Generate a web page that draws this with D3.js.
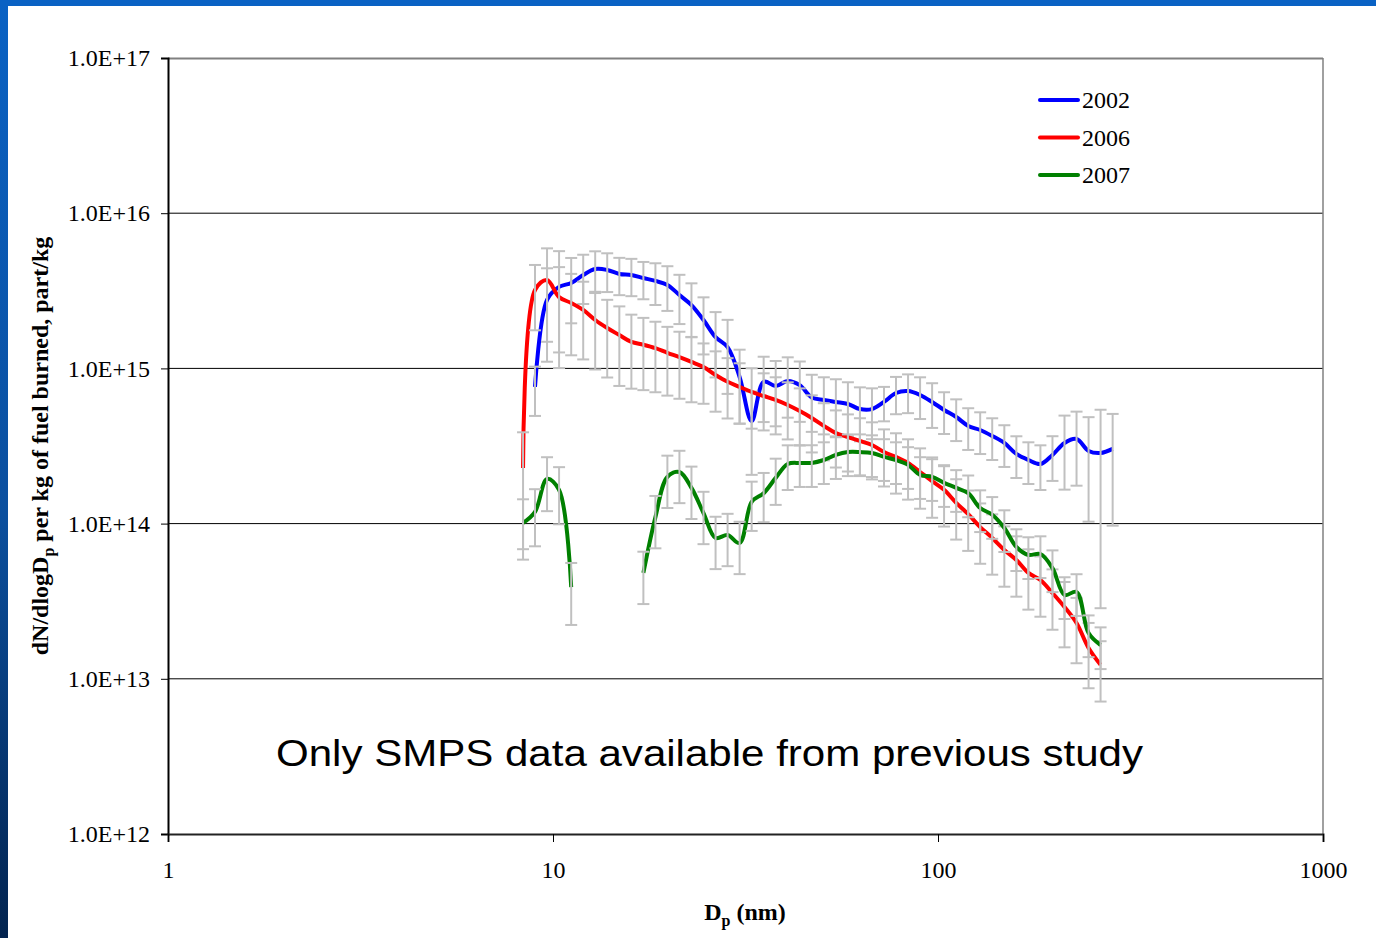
<!DOCTYPE html>
<html>
<head>
<meta charset="utf-8">
<script src="https://cdn.jsdelivr.net/npm/d3@7"></script>
<style>
  html, body { margin: 0; padding: 0; background: #fff; }
  svg { display: block; }
</style>
</head>
<body>
<svg id="chart" width="1376" height="938"></svg>
<script>
// ---- data ----
const diameters = [8.36, 8.98, 9.65, 10.37, 11.15, 11.98, 12.87, 13.83, 14.87, 15.98,
  17.17, 18.45, 19.82, 21.30, 22.89, 24.60, 26.44, 28.41, 30.53, 32.81,
  35.25, 37.88, 40.71, 43.75, 47.01, 50.52, 54.29, 58.34, 62.69, 67.37,
  72.39, 77.80, 83.60, 89.84, 96.54, 103.7, 111.5, 119.8, 128.7, 138.3,
  148.7, 159.8, 171.7, 184.5, 198.3, 213.1, 229.0, 246.1, 264.4, 284.2];

const seriesNames = ["2002", "2006", "2007"];

const values2002 = [null, 7.6e14, 2.76e15, 3.35e15, 3.55e15, 4.0e15, 4.37e15, 4.31e15, 4.06e15, 4.0e15,
  3.82e15, 3.66e15, 3.45e15, 2.97e15, 2.56e15, 2.05e15, 1.59e15, 1.37e15, 8.8e14, 4.58e14,
  8.2e14, 7.7e14, 8.3e14, 7.8e14, 6.5e14, 6.26e14, 6.08e14, 5.9e14, 5.47e14, 5.47e14,
  6.08e14, 6.94e14, 7.15e14, 6.74e14, 6.08e14, 5.4e14, 4.86e14, 4.26e14, 4.01e14, 3.67e14,
  3.31e14, 2.81e14, 2.57e14, 2.42e14, 2.77e14, 3.31e14, 3.51e14, 2.94e14, 2.85e14, 3.03e14];

const values2006 = [2.28e14, 3.2e15, 3.71e15, 2.88e15, 2.64e15, 2.38e15, 2.05e15, 1.82e15, 1.64e15, 1.48e15,
  1.42e15, 1.35e15, 1.26e15, 1.18e15, 1.10e15, 1.02e15, 9.07e14, 8.2e14, 7.6e14, 7.05e14,
  6.64e14, 6.26e14, 5.81e14, 5.31e14, 4.79e14, 4.26e14, 3.83e14, 3.61e14, 3.41e14, 3.21e14,
  2.89e14, 2.69e14, 2.46e14, 2.15e14, 1.88e14, 1.65e14, 1.36e14, 1.15e14, 9.5e13, 8.08e13,
  6.76e13, 5.83e13, 4.81e13, 4.33e13, 3.57e13, 2.9e13, 2.29e13, 1.58e13, 1.23e13, null];

const values2007 = [1.01e14, 1.19e14, 1.94e14, 1.65e14, 3.9e13, null, null, null, null, null,
  4.81e13, 1.10e14, 2.0e14, 2.15e14, 1.70e14, 1.17e14, 8.08e13, 8.44e13, 7.5e13, 1.38e14,
  1.57e14, 1.97e14, 2.42e14, 2.46e14, 2.46e14, 2.57e14, 2.77e14, 2.89e14, 2.89e14, 2.85e14,
  2.69e14, 2.57e14, 2.39e14, 2.06e14, 2.0e14, 1.83e14, 1.70e14, 1.57e14, 1.26e14, 1.14e14,
  9.37e13, 7.07e13, 6.28e13, 6.37e13, 5.17e13, 3.47e13, 3.63e13, 1.97e13, 1.65e13, null];

// relative standard deviation (sigma / value) for the error bars
const relErr2002 = [null, 0.35, 0.6, 0.7, 0.45, 0.35, 0.3, 0.28, 0.27, 0.27,
  0.27, 0.3, 0.32, 0.35, 0.38, 0.4, 0.45, 0.5, 0.5, 0.55,
  0.45, 0.45, 0.42, 0.42, 0.4, 0.4, 0.4, 0.38, 0.38, 0.36,
  0.25, 0.27, 0.28, 0.3, 0.32, 0.3, 0.3, 0.3, 0.3, 0.3,
  0.3, 0.3, 0.3, 0.32, 0.32, 0.5, 0.5, 0.65, 0.9, 0.68];

const relErr2006 = [0.7, 0.45, 0.6, 0.56, 0.54, 0.52, 0.52, 0.52, 0.53, 0.5,
  0.49, 0.48, 0.47, 0.46, 0.45, 0.42, 0.42, 0.42, 0.42, 0.42,
  0.4, 0.4, 0.4, 0.4, 0.4, 0.4, 0.4, 0.4, 0.4, 0.4,
  0.4, 0.42, 0.42, 0.42, 0.42, 0.42, 0.42, 0.42, 0.42, 0.42,
  0.42, 0.42, 0.42, 0.42, 0.42, 0.45, 0.45, 0.45, 0.42, null];

const relErr2007 = [0.42, 0.4, 0.38, 0.4, 0.43, null, null, null, null, null,
  0.37, 0.37, 0.37, 0.37, 0.37, 0.37, 0.37, 0.37, 0.37, 0.35,
  0.35, 0.33, 0.32, 0.3, 0.3, 0.3, 0.3, 0.3, 0.3, 0.3,
  0.3, 0.3, 0.3, 0.3, 0.3, 0.3, 0.3, 0.3, 0.3, 0.3,
  0.3, 0.3, 0.3, 0.3, 0.3, 0.3, 0.3, 0.3, 0.3, null];

const seriesColors = ["#0000ff", "#ff0000", "#008000"];

const xTickValues = [1, 10, 100, 1000];
const xTickLabels = ["1", "10", "100", "1000"];
const yTickValues = [1e12, 1e13, 1e14, 1e15, 1e16, 1e17];
const yTickLabels = ["1.0E+12", "1.0E+13", "1.0E+14", "1.0E+15", "1.0E+16", "1.0E+17"];

const annotation = "Only SMPS data available from previous study";

// ---- drawing ----
const svg = d3.select("#chart");
const W = 1376, H = 938;
const plot = { left: 168, right: 1323, top: 58, bottom: 834 };

// slide background: white with blue frame top and left
const defs = svg.append("defs");
const grad = defs.append("linearGradient").attr("id", "leftbar")
  .attr("x1", 0).attr("y1", 0).attr("x2", 0).attr("y2", 1);
grad.append("stop").attr("offset", "0%").attr("stop-color", "#0a62c4");
grad.append("stop").attr("offset", "55%").attr("stop-color", "#0b4f9e");
grad.append("stop").attr("offset", "100%").attr("stop-color", "#03244f");

svg.append("rect").attr("width", W).attr("height", H).attr("fill", "#ffffff");
svg.append("rect").attr("x", 0).attr("y", 0).attr("width", 8).attr("height", H).attr("fill", "url(#leftbar)");
svg.append("rect").attr("x", 0).attr("y", 0).attr("width", W).attr("height", 6).attr("fill", "#0a62c4");

const x = d3.scaleLog().domain([1, 1000]).range([plot.left, plot.right]);
const y = d3.scaleLog().domain([1e12, 1e17]).range([plot.bottom, plot.top]);

const serif = "'Liberation Serif', 'Times New Roman', serif";
const fs = 24;

// gridlines
svg.append("g").selectAll("line").data(yTickValues.slice(1, -1)).join("line")
  .attr("x1", plot.left).attr("x2", plot.right)
  .attr("y1", d => y(d)).attr("y2", d => y(d))
  .attr("stroke", "#000").attr("stroke-width", 1);

// frame (top / right in gray)
svg.append("line").attr("x1", plot.left).attr("x2", plot.right).attr("y1", plot.top + 0.5).attr("y2", plot.top + 0.5)
  .attr("stroke", "#808080").attr("stroke-width", 2);
svg.append("line").attr("x1", plot.right).attr("x2", plot.right).attr("y1", plot.top).attr("y2", plot.bottom)
  .attr("stroke", "#808080").attr("stroke-width", 1.5);

// axes
const yAxis = d3.axisLeft(y).tickValues(yTickValues)
  .tickFormat((d, i) => yTickLabels[i]).tickSize(7).tickPadding(11);
const gy = svg.append("g").attr("transform", `translate(${plot.left},0)`).call(yAxis);
gy.select(".domain").attr("stroke", "#000").attr("stroke-width", 2);
gy.selectAll(".tick line").attr("stroke", "#000").attr("stroke-width", 1);
gy.selectAll(".tick text").attr("font-family", serif).attr("font-size", fs).attr("fill", "#000");

const xAxis = d3.axisBottom(x).tickValues(xTickValues)
  .tickFormat((d, i) => xTickLabels[i]).tickSize(8).tickPadding(19);
const gx = svg.append("g").attr("transform", `translate(0,${plot.bottom})`).call(xAxis);
gx.select(".domain").attr("stroke", "#222").attr("stroke-width", 2);
gx.selectAll(".tick line").attr("stroke", "#000").attr("stroke-width", 1);
gx.selectAll(".tick text").attr("font-family", serif).attr("font-size", fs).attr("fill", "#000");

// series
const seriesValues = [values2002, values2006, values2007];
const seriesErr = [relErr2002, relErr2006, relErr2007];

const line = d3.line()
  .defined(d => d.v != null)
  .x(d => x(d.d))
  .y(d => y(d.v))
  .curve(d3.curveCatmullRom.alpha(0.5));

seriesNames.forEach((name, si) => {
  const pts = diameters.map((d, i) => ({ d, v: seriesValues[si][i], e: seriesErr[si][i] }));
  const g = svg.append("g").attr("class", "series-" + name);
  g.append("path").datum(pts)
    .attr("d", line)
    .attr("fill", "none")
    .attr("stroke", seriesColors[si])
    .attr("stroke-width", 4)
    .attr("stroke-linejoin", "round");

  const eb = pts.filter(p => p.v != null && p.e != null);
  const hi = p => p.v * (1 + p.e);
  const lo = p => Math.max(p.v * (1 - p.e), p.v * 0.05);
  const bars = g.append("g").selectAll("g").data(eb).join("g");
  bars.append("line")
    .attr("x1", p => x(p.d)).attr("x2", p => x(p.d))
    .attr("y1", p => y(hi(p))).attr("y2", p => y(lo(p)))
    .attr("stroke", "#c0c0c0").attr("stroke-width", 2);
  bars.append("line")
    .attr("x1", p => x(p.d) - 6).attr("x2", p => x(p.d) + 6)
    .attr("y1", p => y(hi(p))).attr("y2", p => y(hi(p)))
    .attr("stroke", "#c0c0c0").attr("stroke-width", 2);
  bars.append("line")
    .attr("x1", p => x(p.d) - 6).attr("x2", p => x(p.d) + 6)
    .attr("y1", p => y(lo(p))).attr("y2", p => y(lo(p)))
    .attr("stroke", "#c0c0c0").attr("stroke-width", 2);
});

// legend
const legend = svg.append("g").attr("transform", "translate(1040,100)");
seriesNames.forEach((name, i) => {
  const row = legend.append("g").attr("transform", `translate(0,${i * 37.5})`);
  row.append("line").attr("x1", 0).attr("x2", 38).attr("y1", 0).attr("y2", 0)
    .attr("stroke", seriesColors[i]).attr("stroke-width", 4).attr("stroke-linecap", "round");
  row.append("text").attr("x", 42).attr("y", 8).text(name)
    .attr("font-family", serif).attr("font-size", fs).attr("fill", "#000");
});

// axis titles
const xt = svg.append("text").attr("x", 745).attr("y", 920).attr("text-anchor", "middle")
  .attr("font-family", serif).attr("font-size", fs).attr("font-weight", "bold").attr("fill", "#000");
xt.append("tspan").text("D");
xt.append("tspan").attr("font-size", 16).attr("dy", 6).text("p");
xt.append("tspan").attr("dy", -6).text(" (nm)");

const yt = svg.append("text").attr("transform", "translate(48,446) rotate(-90)")
  .attr("text-anchor", "middle")
  .attr("font-family", serif).attr("font-size", fs).attr("font-weight", "bold").attr("fill", "#000");
yt.append("tspan").text("dN/dlogD");
yt.append("tspan").attr("font-size", 16).attr("dy", 6).text("p");
yt.append("tspan").attr("dy", -6).text(" per kg of fuel burned, part/kg");

// annotation
svg.append("text").attr("x", 276).attr("y", 766)
  .attr("font-family", "'Liberation Sans', Arial, sans-serif").attr("font-size", 37)
  .attr("textLength", 867).attr("lengthAdjust", "spacingAndGlyphs")
  .attr("fill", "#000").text(annotation);
</script>
</body>
</html>
